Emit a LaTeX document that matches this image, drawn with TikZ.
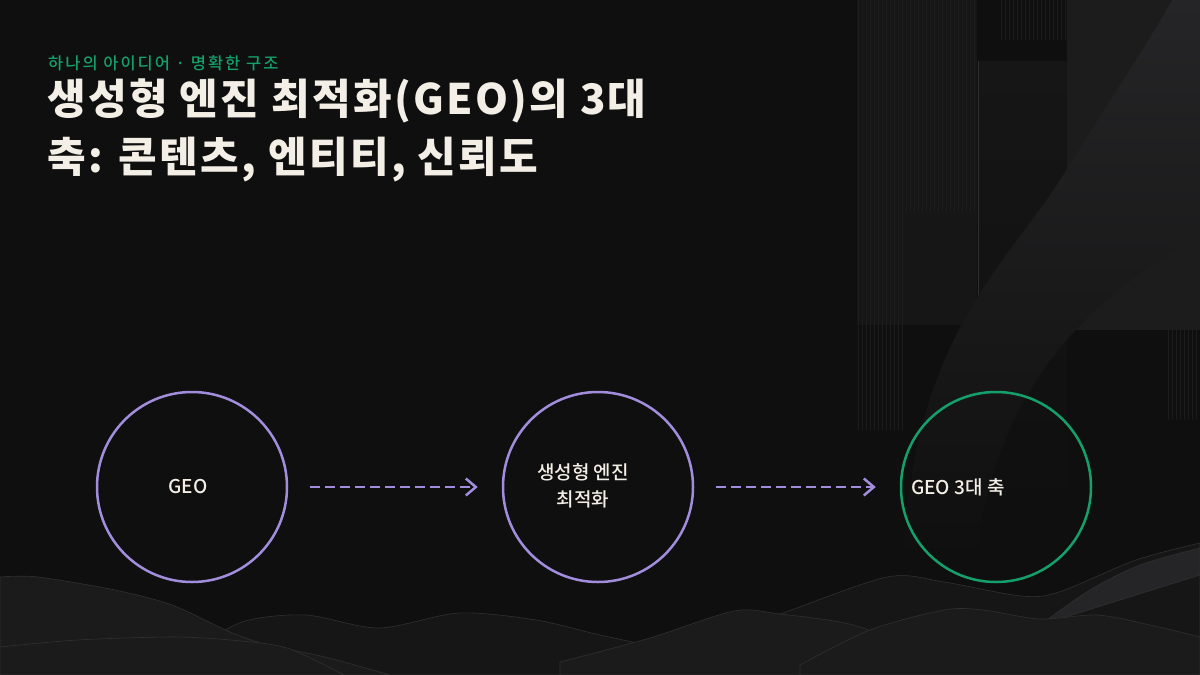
\documentclass[tikz,border=0pt]{standalone}
\usepackage{fontspec}
\setmainfont{Noto Sans CJK KR}
\newfontfamily\medfont{Noto Sans CJK KR Medium}
\usepackage{tikz}
\usetikzlibrary{arrows.meta}
\definecolor{bg}{HTML}{0F0F0F}
\definecolor{lav}{HTML}{A28DDD}
\definecolor{grn}{HTML}{14A06A}
\definecolor{ivory}{HTML}{F4EFE6}
\definecolor{gA}{HTML}{161616}
\definecolor{gB}{HTML}{1B1B1B}
\definecolor{gC}{HTML}{1C1C1D}
\definecolor{gD}{HTML}{252527}
\definecolor{gL}{HTML}{303030}

\begin{document}
\begin{tikzpicture}[x=1pt,y=-1pt,
  ring/.style={circle,draw,line width=2.5pt,minimum size=190pt,inner sep=0pt},
  flow/.style={color=lav,line width=2.5pt,dash pattern=on 10pt off 5pt,-{Straight Barb[length=10pt,width=17pt]},shorten <=22pt,shorten >=24pt},
  txt/.style={text=ivory,font=\medfont\fontsize{19}{27}\selectfont,align=center},
  stripe/.style={color=gC,line width=0.8pt},
  wave/.style={fill=gB,draw=gL,line width=0.6pt}]
\fill[bg] (0,0) rectangle (1200,675);
\useasboundingbox (0,0) rectangle (1200,675);
\fill[gA] (857,0) rectangle (977,325);
\foreach \x in {858,862,...,976} \draw[stripe] (\x,0) -- (\x,213);
\foreach \x in {858,862,...,902} \draw[stripe] (\x,213) -- (\x,430);
\shade[top color=gA,middle color=gA,bottom color=bg] (978,61) rectangle (1067,520);
\draw[gL] (978,61) -- (978,420);
\foreach \x in {1001,1005,...,1066} \draw[stripe] (\x,0) -- (\x,40);
\fill[gC] (1067,0) rectangle (1200,330);
\shade[top color=gD,middle color=gD,bottom color=bg] (904,560) .. controls (910,340) and (1010,260) .. (1060,180)
  .. controls (1110,100) and (1150,40) .. (1172,0) -- (1200,0) -- (1200,233)
  .. controls (1130,280) and (1000,350) .. (975,560) -- cycle;
\foreach \x in {1168,1172,...,1200} \draw[stripe] (\x,236) -- (\x,420);
\path[wave,fill=gA] plot[smooth] coordinates {(700,640) (780,614) (887,577) (944,582) (1021,596) (1059,592) (1136,560) (1200,543)} -- (1200,675) -- (700,675) -- cycle;
\path[wave,fill=gA] plot[smooth] coordinates {(200,645) (245,621) (306,615) (379,628) (459,613) (536,620) (600,635) (680,652)} -- (680,675) -- (200,675) -- cycle;
\path[wave] plot[smooth] coordinates {(0,577) (38,577) (115,590) (172,605) (230,632) (268,645) (325,657) (390,675)} -- (0,675) -- cycle;
\path[wave] plot[smooth] coordinates {(560,662) (650,638) (734,611) (780,614) (849,624) (905,645) (960,675)} -- (560,675) -- cycle;
\path[wave,fill=gD] plot[smooth] coordinates {(1040,625) (1090,590) (1140,565) (1200,548)} -- (1200,575) -- (1120,600) -- cycle;
\path[wave] plot[smooth] coordinates {(800,665) (870,630) (944,610) (983,610) (1040,619) (1097,615) (1150,625) (1200,637)} -- (1200,675) -- (800,675) -- cycle;
\path[wave] plot[smooth] coordinates {(0,647) (77,640) (172,637) (230,640) (287,648) (344,675)} -- (0,675) -- cycle;
\node[anchor=base west,inner sep=0pt,text=grn,font=\medfont\fontsize{16.5}{18}\selectfont\addfontfeatures{LetterSpace=12}] (S) at (48,69) {하나의 아이디어 · 명확한 구조};
\node[anchor=base west,inner sep=0pt,text=ivory,font=\fontsize{42}{57}\selectfont\bfseries\addfontfeatures{LetterSpace=5.5}] (H1) at (47,114) {생성형 엔진 최적화(GEO)의 3대};
\node[anchor=base west,inner sep=0pt,text=ivory,font=\fontsize{42}{57}\selectfont\bfseries\addfontfeatures{LetterSpace=5.5}] (H2) at (47,172) {축: 콘텐츠, 엔티티, 신뢰도};
\node[ring,color=lav] (C1) at (192,487) {};
\node[ring,color=lav] (C2) at (598,487) {};
\node[ring,color=grn] (C3) at (996,487) {};
\node[txt] (T1) at (188,487) {GEO};
\node[txt] (T2) at (583,486) {생성형 엔진\\최적화};
\node[txt,anchor=west,inner sep=0pt] (T3) at (911,487) {GEO 3대 축};
\draw[flow] (C1) -- (C2);
\draw[flow] (C2) -- (C3);
\end{tikzpicture}
\end{document}
